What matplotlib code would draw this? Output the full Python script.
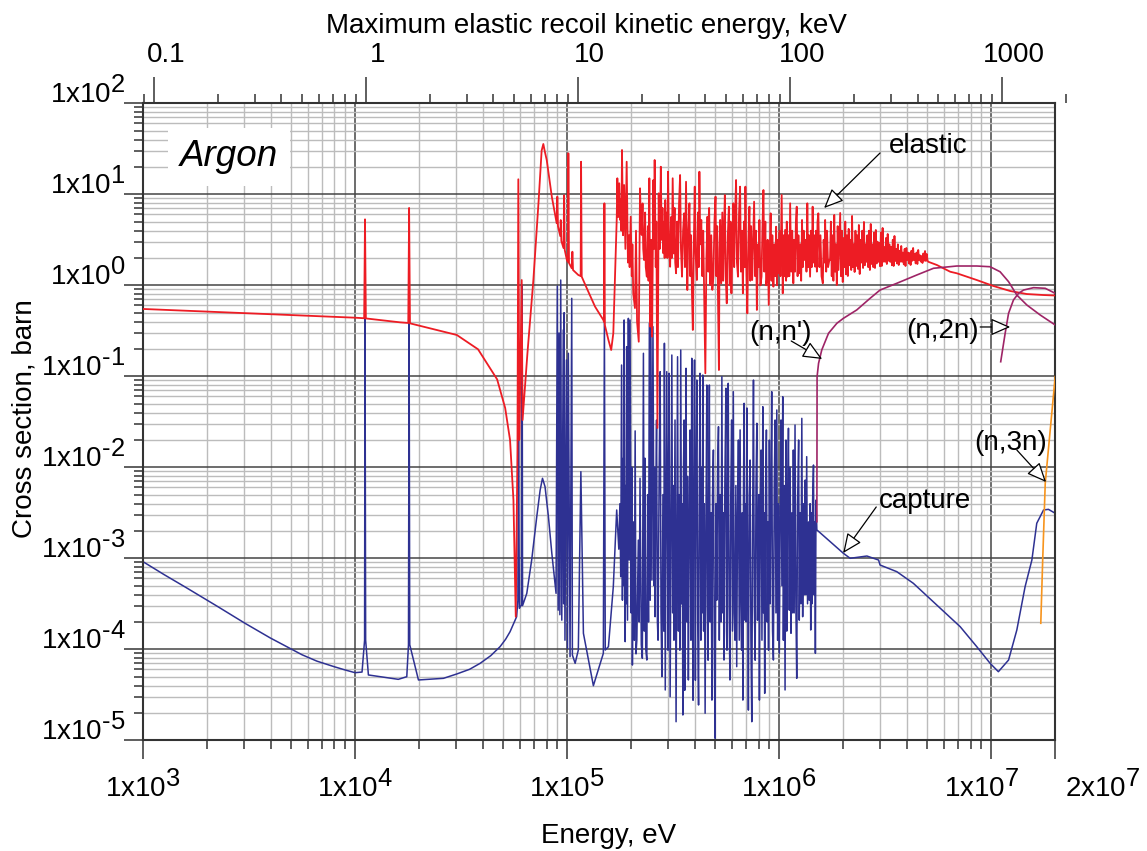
import numpy as np
import matplotlib
matplotlib.use("Agg")
import matplotlib.pyplot as plt
import matplotlib._mathtext as mathtext_impl
from matplotlib.ticker import LogLocator, NullFormatter
from matplotlib.transforms import ScaledTranslation

plt.rcParams['font.family'] = ['Liberation Sans', 'DejaVu Sans']
plt.rcParams['mathtext.fontset'] = 'custom'
plt.rcParams['mathtext.rm'] = 'Liberation Sans'
plt.rcParams['mathtext.it'] = 'Liberation Sans:italic'
plt.rcParams['mathtext.bf'] = 'Liberation Sans:bold'
# exponents in the original are almost full size
mathtext_impl.SHRINK_FACTOR = 0.92

# Curves, as (log10 E [eV], log10 sigma [barn])
elastic_pts = [
    (3.000, -0.260), (4.000, -0.356), (4.043, -0.362), (4.047, 0.725), (4.051, -0.364),
    (4.212, -0.407), (4.251, -0.414), (4.255, 0.850), (4.259, -0.418), (4.480, -0.546),
    (4.580, -0.703), (4.670, -1.033), (4.708, -1.348), (4.731, -1.700), (4.747, -2.359),
    (4.758, -3.642), (4.766, -1.810), (4.770, 1.165), (4.775, -1.700), (4.786, 0.058),
    (4.790, -1.480), (4.813, -0.747), (4.841, 0.058), (4.865, 0.901), (4.880, 1.480),
    (4.888, 1.553), (4.895, 1.470), (4.904, 1.377), (4.928, 0.974), (4.951, 0.681),
    (4.954, 0.974), (4.957, 0.650), (4.968, 0.540), (4.970, 0.717), (4.973, 0.487),
    (4.983, 0.410), (4.986, 0.990), (4.989, 0.388), (4.999, 0.278), (5.004, 0.256),
    (5.006, 1.451), (5.009, 0.245), (5.022, 0.187), (5.025, 0.369), (5.028, 0.168),
    (5.053, 0.113), (5.064, 0.102), (5.066, 1.358), (5.069, 0.095), (5.093, -0.033),
    (5.132, -0.235), (5.171, -0.381), (5.174, -0.403), (5.176, 0.901), (5.178, -0.436),
    (5.195, -0.601), (5.208, -0.711), (5.218, -0.527), (5.234, 0.718), (5.237, 1.176),
    # resolved resonance forest
    (5.241, 0.750), (5.246, 1.121), (5.250, 0.718), (5.254, 0.950), (5.256, 0.600),
    (5.259, 1.487), (5.264, 0.550), (5.269, 1.102), (5.275, 0.400), (5.281, 1.358),
    (5.287, 0.250), (5.292, 0.550), (5.295, 0.200), (5.300, 0.754), (5.305, 0.100),
    (5.308, 0.450), (5.312, -0.088), (5.320, -0.250), (5.325, 0.600), (5.330, -0.400),
    (5.338, -0.620), (5.344, 1.066), (5.348, 0.700), (5.352, 0.553), (5.356, 0.900),
    (5.359, 0.400), (5.363, 0.278), (5.368, 0.800), (5.371, 0.200), (5.376, 0.095),
    (5.381, 0.650), (5.384, 0.050), (5.388, 1.176), (5.392, -0.455), (5.397, 0.500),
    (5.401, -0.565), (5.407, 1.157), (5.410, 0.400), (5.413, 1.377), (5.418, 0.200),
    (5.421, 0.700), (5.426, -1.568), (5.432, 1.011), (5.437, 0.400), (5.442, 1.303),
    (5.446, 0.500), (5.450, 0.850), (5.454, 0.352), (5.458, 0.700), (5.460, 0.300),
    (5.463, 0.937), (5.467, 0.350), (5.471, 0.800), (5.473, 0.300), (5.476, 1.248),
    (5.481, 0.400), (5.486, 0.204), (5.490, 0.750), (5.494, 0.300), (5.498, 1.176),
    (5.503, 0.350), (5.507, 0.850), (5.510, 0.250), (5.514, 0.132), (5.519, 0.700),
    (5.523, 0.200), (5.528, 0.900), (5.533, 1.212), (5.537, 0.400), (5.542, 0.095),
    (5.547, 0.600), (5.552, 0.791), (5.556, 0.200), (5.561, 1.138), (5.567, -0.052),
    (5.572, 0.600), (5.577, 0.901), (5.581, 0.100), (5.585, 0.550), (5.589, -0.100),
    (5.593, -0.491), (5.598, 0.500), (5.602, 1.084),
    (5.606, 0.350), (5.612, 0.058), (5.617, 0.800),
    (5.621, 0.200), (5.624, 1.248), (5.628, 0.450), (5.633, 0.718), (5.638, 0.100),
    (5.642, 0.600), (5.646, 0.003), (5.652, -0.967), (5.657, 0.300), (5.662, 0.754),
    (5.666, 0.150), (5.670, 0.850), (5.675, 0.003), (5.680, 0.550), (5.685, -0.050),
    (5.690, 0.095), (5.695, 0.700), (5.700, 0.974), (5.704, 0.100), (5.708, 0.650),
    (5.712, -0.200), (5.716, -0.931), (5.719, 0.400), (5.722, 0.718), (5.727, 0.022),
    (5.732, 0.800), (5.736, 0.050), (5.740, 0.600), (5.744, 0.992), (5.748, 0.100),
    (5.753, -0.198), (5.758, 0.550), (5.763, 0.864), (5.767, 0.000), (5.771, 0.700),
    (5.775, -0.088), (5.780, 0.500), (5.784, 0.901), (5.788, 0.200), (5.792, 0.750),
    (5.797, 1.157), (5.801, 0.250), (5.806, 0.095), (5.811, 0.800), (5.816, 1.084),
    (5.820, 0.150), (5.825, 0.600), (5.829, -0.088), (5.834, 0.700), (5.838, 0.200),
    (5.841, 1.084), (5.846, 0.100), (5.850, -0.308), (5.855, 0.500), (5.860, 0.864),
    (5.864, 0.050), (5.868, 0.650), (5.873, 0.058), (5.878, 0.550), (5.882, 0.919),
    (5.887, 0.100), (5.891, 0.600), (5.895, -0.271), (5.900, 0.450), (5.904, 0.200),
    (5.907, 0.718), (5.912, 0.000), (5.917, 0.095), (5.921, 0.600), (5.926, 1.047),
    (5.930, 0.150), (5.935, 0.700), (5.939, 0.000), (5.942, 0.058), (5.946, 0.500),
    (5.951, -0.216), (5.956, 0.400), (5.960, 0.791), (5.964, 0.050), (5.968, 0.550),
    (5.973, -0.015), (5.977, 0.450), (5.981, 0.100), (5.986, 0.644), (5.990, 0.000),
    (5.993, 0.500), (5.996, 0.132), (6.001, 0.600), (6.006, 0.100), (6.012, 0.992),
    (6.017, -0.088), (6.021, 0.550), (6.024, 0.100), (6.028, 0.608), (6.033, 0.050),
    (6.036, 0.700), (6.039, 0.095), (6.044, 0.550), (6.048, 0.100), (6.052, 0.901),
    (6.057, 0.150), (6.062, 0.600), (6.067, 0.022), (6.071, 0.500), (6.075, 0.150),
    (6.079, 0.700), (6.083, 0.864), (6.087, 0.100), (6.091, 0.550), (6.095, 0.132),
    (6.100, 0.450), (6.104, 0.050), (6.108, 0.718), (6.112, 0.200), (6.116, 0.600),
    (6.120, 0.278), (6.125, 0.500), (6.129, 0.150), (6.133, 0.901), (6.137, 0.200),
    (6.141, 0.550), (6.146, 0.095), (6.150, 0.600), (6.154, 0.200), (6.158, 0.864),
    (6.162, 0.250), (6.166, 0.550), (6.170, 0.204), (6.174, 0.600), (6.178, 0.150),
    (6.181, 0.700), (6.185, 0.791), (6.190, 0.200), (6.195, 0.550), (6.200, 0.100),
    (6.206, 0.022), (6.210, 0.500), (6.214, 0.250), (6.217, 0.718), (6.222, 0.150),
    (6.226, 0.600), (6.231, 0.200), (6.237, 0.278),
    # unresolved region, narrowing band
    (6.240, 0.278), (6.244, 0.700), (6.248, 0.100), (6.252, 0.550), (6.256, 0.050),
    (6.260, 0.773), (6.264, 0.150), (6.268, 0.450), (6.272, 0.003), (6.276, 0.650),
    (6.280, 0.168), (6.284, 0.500), (6.288, 0.795), (6.292, 0.100), (6.296, 0.600),
    (6.300, 0.036), (6.304, 0.520), (6.308, 0.200), (6.312, 0.700), (6.316, 0.120),
    (6.320, 0.550), (6.324, 0.102), (6.328, 0.620), (6.332, 0.220), (6.336, 0.500),
    (6.340, 0.168), (6.344, 0.762), (6.348, 0.200), (6.352, 0.450), (6.356, 0.146),
    (6.360, 0.600), (6.364, 0.212), (6.368, 0.550), (6.372, 0.180), (6.376, 0.663),
    (6.380, 0.124), (6.384, 0.500), (6.388, 0.250), (6.392, 0.600), (6.396, 0.190),
    (6.400, 0.696), (6.404, 0.220), (6.408, 0.450), (6.412, 0.258), (6.416, 0.550),
    (6.420, 0.200), (6.424, 0.600), (6.428, 0.168), (6.432, 0.674), (6.436, 0.234),
    (6.440, 0.450), (6.444, 0.200), (6.448, 0.580), (6.452, 0.190), (6.456, 0.608),
    (6.460, 0.240), (6.464, 0.480), (6.468, 0.258), (6.472, 0.465), (6.476, 0.210),
    (6.480, 0.580), (6.484, 0.212), (6.488, 0.630), (6.492, 0.260), (6.496, 0.420),
    (6.500, 0.258), (6.504, 0.520), (6.508, 0.234), (6.512, 0.564), (6.516, 0.270),
    (6.520, 0.450), (6.524, 0.258), (6.528, 0.421), (6.532, 0.220), (6.536, 0.500),
    (6.540, 0.212), (6.544, 0.542), (6.548, 0.267), (6.552, 0.400), (6.556, 0.240),
    (6.560, 0.450), (6.564, 0.223), (6.568, 0.380), (6.572, 0.260), (6.576, 0.432),
    (6.580, 0.258), (6.584, 0.360), (6.588, 0.230), (6.592, 0.400), (6.596, 0.212),
    (6.600, 0.410), (6.604, 0.278), (6.608, 0.360), (6.612, 0.240), (6.616, 0.355),
    (6.620, 0.223), (6.624, 0.380), (6.628, 0.270), (6.632, 0.410), (6.636, 0.278),
    (6.640, 0.344), (6.644, 0.240), (6.648, 0.360), (6.652, 0.234), (6.656, 0.388),
    (6.660, 0.278), (6.664, 0.330), (6.668, 0.260), (6.672, 0.322), (6.676, 0.245),
    (6.680, 0.350), (6.684, 0.270), (6.688, 0.377), (6.692, 0.267), (6.696, 0.344),
    (6.700, 0.270), (6.704, 0.258),
    # smooth high-energy tail
    (6.744, 0.223), (6.807, 0.149), (6.838, 0.132), (6.932, 0.058), (7.011, -0.008),
    (7.090, -0.063), (7.168, -0.096), (7.247, -0.107), (7.302, -0.112),
]

capture_pts = [
    (3.000, -3.037), (3.100, -3.180), (3.200, -3.317), (3.350, -3.527), (3.481, -3.714),
    (3.600, -3.875), (3.693, -3.990), (3.750, -4.060), (3.820, -4.130), (3.900, -4.190),
    (3.950, -4.225), (4.000, -4.257), (4.033, -4.250), (4.045, -3.900), (4.047, -0.363),
    (4.050, -3.900), (4.063, -4.282), (4.204, -4.330), (4.244, -4.301), (4.252, -3.950),
    (4.255, -0.403), (4.258, -3.950), (4.299, -4.337), (4.417, -4.319), (4.480, -4.271),
    (4.540, -4.220), (4.590, -4.154), (4.640, -4.070), (4.684, -3.971), (4.710, -3.890),
    (4.731, -3.807), (4.762, -3.642), (4.768, -3.460), (4.771, -1.480), (4.775, -3.550),
    (4.785, -3.510), (4.788, 0.003), (4.790, -3.520), (4.810, -3.385), (4.833, -3.019),
    (4.857, -2.543), (4.873, -2.249), (4.884, -2.121), (4.896, -2.213), (4.912, -2.543),
    (4.928, -2.945), (4.948, -3.385), (4.954, -0.008), (4.958, -3.570), (4.962, -0.524),
    (4.966, -3.620), (4.970, 0.058), (4.975, -3.680), (4.982, -0.490), (4.984, -3.500),
    (4.986, -0.301), (4.990, -3.900), (4.997, -0.820), (5.002, -3.990), (5.006, -0.747),
    (5.014, -4.081), (5.022, -0.143), (5.025, -4.063), (5.038, -4.154), (5.053, -4.008),
    (5.065, -2.048), (5.077, -3.824), (5.124, -4.400), (5.171, -4.044), (5.176, -0.345),
    (5.180, -4.008), (5.195, -3.971), (5.218, -3.312), (5.234, -2.469),
    # resolved resonance forest
    (5.244, -2.900), (5.249, -2.400), (5.253, -3.202), (5.257, -0.876), (5.261, -3.460),
    (5.265, -1.900), (5.267, -3.300), (5.269, -0.381), (5.274, -3.916), (5.277, -2.200),
    (5.279, -3.500), (5.281, -0.675), (5.285, -3.680), (5.289, -0.363), (5.293, -3.020),
    (5.297, -0.381), (5.302, -3.600), (5.305, -2.000), (5.308, -4.173), (5.313, -2.600),
    (5.317, -3.900), (5.321, -1.600), (5.325, -4.050), (5.329, -3.898), (5.336, -2.800),
    (5.340, -3.700), (5.344, -2.121), (5.350, -3.950), (5.355, -4.099), (5.360, -0.747),
    (5.364, -3.800), (5.367, -1.900), (5.371, -4.000), (5.376, -4.118), (5.380, -2.300),
    (5.384, -3.700), (5.388, -0.418), (5.392, -3.460), (5.395, -0.381), (5.400, -3.240),
    (5.405, -0.455), (5.410, -3.300), (5.413, -2.000), (5.415, -3.642), (5.418, -2.400),
    (5.422, -1.480), (5.426, -3.700), (5.429, -3.900), (5.434, -2.100), (5.439, -0.949),
    (5.443, -3.600), (5.447, -4.301), (5.452, -2.300), (5.456, -3.800), (5.459, -0.637),
    (5.463, -4.447), (5.467, -2.500), (5.470, -0.949), (5.476, -4.010), (5.478, -2.300),
    (5.481, -0.967), (5.486, -4.521),
    (5.494, -0.766), (5.498, -3.600), (5.501, -2.200),
    (5.504, -3.900), (5.509, -1.480), (5.514, -4.796), (5.518, -2.600), (5.521, -0.785),
    (5.525, -3.800), (5.528, -2.300), (5.532, -4.010), (5.536, -0.711), (5.540, -3.500),
    (5.543, -2.400), (5.546, -4.722), (5.549, -2.000), (5.552, -1.480), (5.555, -4.450),
    (5.558, -2.500), (5.561, -0.912), (5.565, -3.700), (5.568, -2.100), (5.572, -4.337),
    (5.576, -2.600), (5.580, -1.590), (5.584, -3.900), (5.588, -0.802), (5.591, -3.400),
    (5.594, -4.560), (5.597, -2.300), (5.601, -0.821), (5.605, -4.340), (5.608, -2.200),
    (5.612, -1.041), (5.616, -3.700), (5.620, -4.612), (5.623, -2.500), (5.627, -0.967),
    (5.631, -3.900), (5.634, -2.000), (5.637, -3.600), (5.640, -0.986), (5.644, -3.800),
    (5.647, -2.400), (5.651, -4.703), (5.655, -2.600), (5.659, -1.096), (5.662, -3.500),
    (5.665, -4.120), (5.668, -2.200), (5.671, -1.096), (5.675, -3.700), (5.679, -2.500),
    (5.683, -4.558), (5.686, -2.300), (5.690, -1.810), (5.694, -3.900), (5.698, -4.978),
    (5.702, -2.400), (5.706, -3.460), (5.710, -2.000), (5.714, -1.554), (5.718, -3.900),
    (5.722, -2.300), (5.726, -3.700), (5.730, -1.004), (5.734, -3.600), (5.737, -2.500),
    (5.740, -4.118), (5.744, -2.200), (5.749, -1.132), (5.752, -3.800), (5.754, -4.010),
    (5.757, -2.400), (5.760, -1.077), (5.764, -3.500), (5.768, -4.337), (5.772, -2.300),
    (5.776, -1.480), (5.780, -3.800), (5.784, -1.169), (5.788, -3.600), (5.792, -3.900),
    (5.796, -2.200), (5.800, -4.191), (5.804, -2.500), (5.808, -1.700), (5.812, -3.900),
    (5.816, -1.589), (5.820, -3.500), (5.823, -4.010), (5.826, -2.500), (5.829, -4.558),
    (5.832, -2.200), (5.835, -1.297), (5.839, -3.680), (5.842, -2.400), (5.845, -3.700),
    (5.848, -1.348), (5.852, -3.400), (5.855, -4.668), (5.859, -2.300), (5.863, -1.920),
    (5.867, -3.900), (5.871, -4.796), (5.875, -2.600), (5.879, -1.041), (5.883, -3.500),
    (5.887, -4.120), (5.891, -2.200), (5.895, -1.516), (5.898, -3.680), (5.901, -3.300),
    (5.904, -2.300), (5.907, -4.558), (5.911, -2.400), (5.915, -1.810), (5.919, -3.900),
    (5.923, -1.334), (5.926, -3.600), (5.929, -2.500), (5.932, -4.484), (5.936, -2.300),
    (5.940, -1.590), (5.944, -3.700), (5.947, -2.600), (5.950, -4.010), (5.954, -1.700),
    (5.958, -3.500), (5.961, -2.400), (5.965, -1.169), (5.969, -3.800), (5.973, -4.118),
    (5.977, -2.200), (5.981, -1.480), (5.985, -3.600), (5.989, -1.370), (5.993, -3.900),
    (5.997, -2.400), (6.001, -4.044), (6.005, -2.500), (6.009, -1.480), (6.013, -3.300),
    (6.017, -1.224), (6.020, -3.900), (6.024, -2.200), (6.028, -4.447), (6.032, -1.700),
    (6.036, -3.800), (6.040, -2.400), (6.044, -1.571), (6.048, -3.570), (6.052, -2.000),
    (6.056, -3.824), (6.060, -2.500), (6.064, -3.600), (6.067, -1.810), (6.071, -3.600),
    (6.075, -1.535), (6.079, -3.500), (6.083, -4.319), (6.087, -2.400), (6.092, -1.700),
    (6.095, -3.680), (6.099, -2.500), (6.103, -3.500), (6.107, -1.462), (6.111, -3.642),
    (6.115, -2.400), (6.119, -3.400), (6.123, -2.140), (6.126, -3.400), (6.130, -1.883),
    (6.134, -3.500), (6.139, -2.600), (6.142, -3.460), (6.146, -2.400), (6.149, -3.788),
    (6.152, -2.500), (6.155, -3.500), (6.158, -2.360), (6.162, -1.975), (6.165, -3.400),
    (6.168, -2.600), (6.171, -4.044), (6.174, -2.360), (6.178, -2.688),
    # fast region
    (6.303, -2.945), (6.335, -3.000), (6.414, -2.975), (6.469, -3.019), (6.476, -3.074),
    (6.555, -3.147), (6.633, -3.275), (6.743, -3.513), (6.854, -3.752), (6.932, -3.971),
    (6.995, -4.154), (7.034, -4.246), (7.082, -4.118), (7.121, -3.788), (7.160, -3.312),
    (7.192, -3.019), (7.215, -2.615), (7.247, -2.469), (7.270, -2.462), (7.302, -2.505),
]

inelastic_pts = [
    (6.178, -2.598), (6.179, -1.004), (6.186, -0.857), (6.201, -0.711), (6.233, -0.527),
    (6.272, -0.418), (6.303, -0.363), (6.366, -0.271), (6.429, -0.143), (6.476, -0.052),
    (6.555, 0.022), (6.649, 0.113), (6.728, 0.187), (6.838, 0.212), (6.932, 0.212),
    (6.995, 0.204), (7.042, 0.149), (7.082, 0.040), (7.121, -0.107), (7.168, -0.216),
    (7.231, -0.326), (7.302, -0.436),
]

n2n_pts = [
    (7.045, -0.840), (7.066, -0.527), (7.082, -0.308), (7.105, -0.162), (7.129, -0.088),
    (7.153, -0.052), (7.200, -0.026), (7.255, -0.033), (7.302, -0.088),
]

n3n_pts = [(7.234, -3.714), (7.243, -3.019), (7.255, -2.176), (7.302, -1.004)]

# label, text position, arrow tail, arrow tip (all log10 E, log10 sigma)
annotations = [
    ('elastic', (6.703, 1.451), (6.476, 1.454), (6.212, 0.849)),
    ("(n,n')", (6.005, -0.601), (6.057, -0.612), (6.203, -0.810)),
    ('(n,2n)', (6.771, -0.582), (6.948, -0.458), (7.090, -0.458)),
    ('(n,3n)', (7.090, -1.810), (7.121, -1.810), (7.259, -2.162)),
    ('capture', (6.689, -2.447), (6.458, -2.436), (6.302, -2.942)),
]

x_ticks = [1e3, 1e4, 1e5, 1e6, 1e7, 2e7]
x_labels = [r'1x10$^{3}$', r'1x10$^{4}$', r'1x10$^{5}$', r'1x10$^{6}$',
            r'1x10$^{7}$', r'2x10$^{7}$']
y_exps = [-5, -4, -3, -2, -1, 0, 1, 2]
top_ticks = [0.1, 1, 10, 100, 1000]
top_labels = ['0.1', '1', '10', '100', '1000']
RECOIL_KEV_PER_EV = 0.089e-3   # max recoil energy scale of the top axis


def curve(pts):
    a = np.array(pts).T
    return 10 ** a[0], 10 ** a[1]


def exp_label(e):
    # plain hyphen for negative exponents, like the original
    sign = r'\text{-}' if e < 0 else ''
    return r'1x10$^{%s%d}$' % (sign, abs(e))


fig = plt.figure(figsize=(11.47, 8.51), dpi=100)
ax = fig.add_axes([143 / 1147, 110.7 / 851, 912 / 1147, 637 / 851])
ax.set_xscale('log')
ax.set_yscale('log')
ax.set_xlim(1e3, 2e7)
ax.set_ylim(1e-5, 1e2)

ax.plot(*curve(capture_pts), color='#2e3192', lw=1.1, zorder=2)
ax.plot(*curve(elastic_pts), color='#ed1c24', lw=1.3, zorder=3)
ax.plot(*curve(inelastic_pts), color='#9e2466', lw=1.2, zorder=4)
ax.plot(*curve(n2n_pts), color='#9e2466', lw=1.2, zorder=4)
ax.plot(*curve(n3n_pts), color='#f7941d', lw=1.2, zorder=4)

ax.set_xticks(x_ticks, labels=x_labels)
ax.set_yticks([10.0 ** e for e in y_exps], labels=[exp_label(e) for e in y_exps])
ax.xaxis.set_minor_locator(LogLocator(base=10, subs=np.arange(2, 10), numticks=100))
ax.yaxis.set_minor_locator(LogLocator(base=10, subs=np.arange(2, 10), numticks=100))
ax.xaxis.set_minor_formatter(NullFormatter())
ax.yaxis.set_minor_formatter(NullFormatter())

ax.set_axisbelow(True)
ax.grid(which='major', color='#454545', lw=1.1)
ax.grid(which='minor', color='#bcbcbc', lw=1.0)
ax.tick_params(which='both', direction='out', top=False, right=False,
               color='#333333', width=1.1, labelsize=20)
ax.tick_params(which='major', length=13.7)
ax.tick_params(which='minor', length=6.8)
ax.tick_params(axis='x', which='major', pad=8)
ax.tick_params(axis='y', which='major', pad=-1)
for s in ax.spines.values():
    s.set_linewidth(1.5)
    s.set_color('#333333')

ax.set_xlabel('Energy, eV', fontsize=20)
ax.xaxis.set_label_coords(0.511, -0.130)
ax.set_ylabel('Cross section, barn', fontsize=20)
ax.yaxis.set_label_coords(-0.116, 0.505)

ax.text(0.0943, 0.916, 'Argon', transform=ax.transAxes, ha='center', va='center',
        fontsize=26.5, style='italic', zorder=6,
        bbox=dict(boxstyle='square,pad=0.32', fc='white', ec='none'))

for label, (tx, ty), (x0, y0), (x1, y1) in annotations:
    ax.text(10 ** tx, 10 ** ty, label, ha='center', va='baseline', fontsize=20, zorder=7)
    ax.annotate('', xy=(10 ** x1, 10 ** y1), xytext=(10 ** x0, 10 ** y0), zorder=7,
                arrowprops=dict(arrowstyle='-|>,head_length=0.5,head_width=0.22',
                                mutation_scale=24, fc='white', ec='black', lw=0.9,
                                shrinkA=0, shrinkB=0))

# top axis: maximum elastic recoil energy, runs a little past the frame
ext = (1070 - 143) / 912
tax = fig.add_axes([143 / 1147, 110.7 / 851, 927 / 1147, 637 / 851], frameon=False)
tax.set_xscale('log')
tax.set_xlim(1e3 * RECOIL_KEV_PER_EV, 1e3 * (2e7 / 1e3) ** ext * RECOIL_KEV_PER_EV)
tax.yaxis.set_visible(False)
tax.xaxis.tick_top()
tax.set_xticks(top_ticks, labels=top_labels)
tax.xaxis.set_minor_locator(LogLocator(base=10, subs=np.arange(2, 10), numticks=100))
tax.xaxis.set_minor_formatter(NullFormatter())
tax.tick_params(which='major', direction='out', length=18.7, width=1.1,
                color='#333333', labelsize=20, pad=6.5)
tax.tick_params(which='minor', direction='out', length=6.5, width=1.1, color='#333333')

fig.text(586 / 1147, 1 - 33 / 851, 'Maximum elastic recoil kinetic energy, keV',
         ha='center', va='baseline', fontsize=20)

# small hand placement of some tick labels, as in the original
for lbl in ax.get_yticklabels():
    lbl.set_verticalalignment('baseline')
for lbl in tax.get_xticklabels():
    lbl.set_transform(lbl.get_transform() + ScaledTranslation(0.12, 0, fig.dpi_scale_trans))
xl = ax.get_xticklabels()
xl[4].set_transform(xl[4].get_transform() + ScaledTranslation(-0.09, 0, fig.dpi_scale_trans))
xl[5].set_horizontalalignment('left')
xl[5].set_transform(xl[5].get_transform() + ScaledTranslation(0.10, 0, fig.dpi_scale_trans))

fig.savefig('out.png', dpi=100)
